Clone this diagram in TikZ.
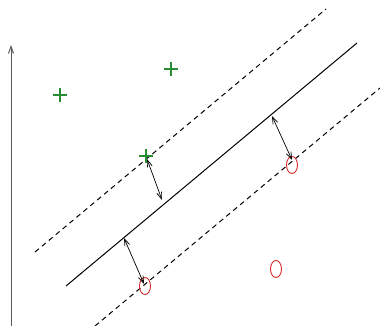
\documentclass[tikz,border=0pt]{standalone}
\usetikzlibrary{arrows.meta,shapes.geometric}
\definecolor{plusgreen}{RGB}{40,140,50}
\definecolor{circred}{RGB}{215,40,40}
\tikzset{
  hyper/.style={line width=1pt,black},
  marginline/.style={line width=1pt,black,dash pattern=on 5pt off 4pt},
  axisline/.style={line width=1pt,black!65,-{Straight Barb[length=7pt,width=5pt]}},
  gaparrow/.style={line width=0.7pt,black,{Straight Barb[length=7pt,width=5pt]}-{Straight Barb[length=7pt,width=5pt]}},
  possample/.style={line width=1.1pt,color=plusgreen},
  negsample/.style={ellipse,draw=circred,line width=0.9pt,minimum width=11pt,minimum height=17pt,inner sep=0pt},
}
\begin{document}
\begin{tikzpicture}[x=1pt,y=-1pt]
\useasboundingbox (0,0) rectangle (380,326);
% axis
\coordinate (ax0) at (11,326);
\coordinate (ax1) at (11,45);
\draw[axisline] (ax0) -- (ax1);
% hyperplane and margins
\coordinate (h0) at (66,286);
\coordinate (h1) at (357,43);
\coordinate (u0) at (35,252);
\coordinate (u1) at (326,9);
\coordinate (l0) at (95,326);
\coordinate (l1) at (380,88);
\draw[hyper] (h0) -- (h1);
\draw[marginline] (u0) -- (u1);
\draw[marginline] (l0) -- (l1);
% positive samples
\coordinate (p1) at (60,95);
\coordinate (p2) at (171,69);
\coordinate (p3) at (146,156);
\draw[possample]
  ([xshift=-7pt]p1) -- ([xshift=7pt]p1) ([yshift=-7pt]p1) -- ([yshift=7pt]p1)
  ([xshift=-7pt]p2) -- ([xshift=7pt]p2) ([yshift=-7pt]p2) -- ([yshift=7pt]p2)
  ([xshift=-7pt]p3) -- ([xshift=7pt]p3) ([yshift=-7pt]p3) -- ([yshift=7pt]p3);
% negative samples
\node[negsample] (n1) at (292,165) {};
\node[negsample] (n2) at (145,286) {};
\node[negsample] (n3) at (276,269) {};
% margin distances
\coordinate (a1s) at (147,159);
\coordinate (a1e) at (162,200);
\coordinate (a2s) at (272,116);
\coordinate (a2e) at (292,160);
\coordinate (a3s) at (124,238);
\coordinate (a3e) at (144,284);
\draw[gaparrow] (a1s) -- (a1e);
\draw[gaparrow] (a2s) -- (a2e);
\draw[gaparrow] (a3s) -- (a3e);
\end{tikzpicture}
\end{document}
